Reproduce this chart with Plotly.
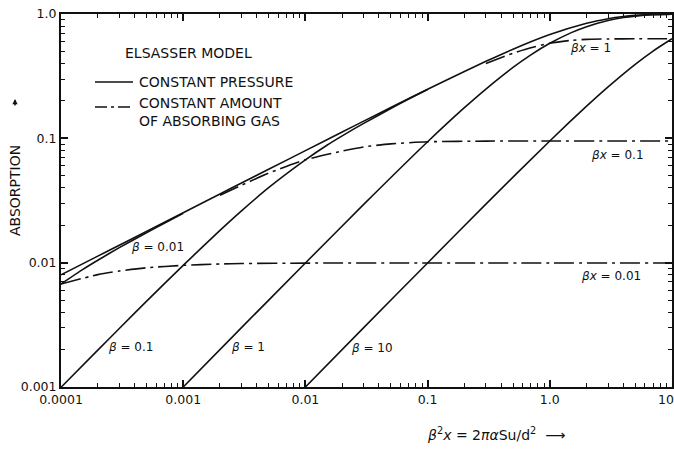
import plotly.graph_objects as go

# ---------------- data ----------------
# upper solid envelope
env_x = [0.0001, 0.0002, 0.0003, 0.0005, 0.001, 0.002, 0.003, 0.005, 0.01, 0.02, 0.03,
         0.05, 0.1, 0.2, 0.3, 0.5, 1, 2, 3, 4, 5, 7, 10]
env_y = [0.00798, 0.01128, 0.01382, 0.01784, 0.02523, 0.03568, 0.0437, 0.05637, 0.0797,
         0.1125, 0.1375, 0.1769, 0.2482, 0.3453, 0.4161, 0.5205, 0.6827, 0.8427, 0.9167,
         0.9545, 0.9747, 0.9918, 0.9984]

# constant pressure curves
b001_x = [0.0001, 0.00015, 0.0002, 0.0003, 0.0005, 0.0007, 0.001]
b001_y = [0.00674, 0.0088, 0.01047, 0.0132, 0.01738, 0.02072, 0.0249]

b01_x = [0.0001, 0.0002, 0.0003, 0.0005, 0.001, 0.002, 0.003, 0.005, 0.01, 0.015,
         0.02, 0.03, 0.05, 0.07, 0.1]
b01_y = [0.000995, 0.00198, 0.002955, 0.004878, 0.00952, 0.01818, 0.0261, 0.0401, 0.0671,
         0.088, 0.1047, 0.132, 0.1738, 0.2072, 0.247]

b1_x = [0.001, 0.003, 0.01, 0.03, 0.1, 0.2, 0.3, 0.5, 0.7, 1, 1.5, 2, 3, 4, 5, 7, 10]
b1_y = [0.001, 0.003, 0.00994, 0.0294, 0.0938, 0.1763, 0.249, 0.3714, 0.4688, 0.581,
        0.7084, 0.791, 0.887, 0.936, 0.962, 0.987, 0.997]

b10_x = [0.01, 0.03, 0.1, 0.3, 1, 2, 3, 5, 7, 10]
b10_y = [0.001, 0.003, 0.00995, 0.0296, 0.0952, 0.1813, 0.2592, 0.3935, 0.5034, 0.632]

# constant amount of absorbing gas curves
bx001_x = [0.0001, 0.0002, 0.0003, 0.0005, 0.001, 0.002, 0.003, 0.01, 0.1, 1, 10]
bx001_y = [0.00674, 0.00801, 0.00857, 0.00909, 0.00952, 0.00976, 0.00984, 0.00992,
           0.00995, 0.00995, 0.00995]

bx01_x = [0.002, 0.003, 0.005, 0.01, 0.02, 0.03, 0.05, 0.1, 0.3, 1, 3, 10]
bx01_y = [0.0348, 0.0419, 0.0524, 0.0672, 0.079, 0.0853, 0.0902, 0.0938, 0.095,
          0.0952, 0.0952, 0.0952]

bx1_x = [0.3, 0.5, 0.7, 1, 1.5, 2, 3, 5, 10]
bx1_y = [0.40, 0.4836, 0.5356, 0.581, 0.6137, 0.625, 0.630, 0.632, 0.632]

x_ticks = [0.0001, 0.001, 0.01, 0.1, 1, 10]
x_ticktext = ["0.0001", "0.001", "0.01", "0.1", "1.0", "10\u00a0\u00a0\u00a0"]
y_ticks = [0.001, 0.01, 0.1, 1]
y_ticktext = ["0.001", "0.01", "0.1", "1.0"]

# ---------------- figure ----------------
W, H = 674, 450
L, R, T, B = 61, 2, 14, 63
PW, PH = W - L - R, H - T - B


def px(x):
    return (x - L) / PW


def py(y):
    return (H - B - y) / PH


INK = "#111"
SOLID = dict(color=INK, width=1.6)
DASHDOT = dict(color=INK, width=1.6, dash="20px,5px,3px,5px")

fig = go.Figure()
for xs, ys in [(env_x, env_y), (b001_x, b001_y), (b01_x, b01_y), (b1_x, b1_y), (b10_x, b10_y)]:
    fig.add_trace(go.Scatter(x=xs, y=ys, mode="lines", line=dict(SOLID, shape="spline", smoothing=0.6),
                             showlegend=False, hoverinfo="skip"))
for xs, ys in [(bx001_x, bx001_y), (bx01_x, bx01_y), (bx1_x, bx1_y)]:
    fig.add_trace(go.Scatter(x=xs, y=ys, mode="lines", line=dict(DASHDOT, shape="spline", smoothing=0.6),
                             showlegend=False, hoverinfo="skip"))

minor_x = [m * 10 ** e for e in range(-4, 1) for m in range(2, 10)]
minor_y = [m * 10 ** e for e in range(-3, 0) for m in range(2, 10)]

axis_common = dict(
    showline=True, linecolor=INK, linewidth=2, mirror="allticks",
    ticks="inside", ticklen=7, tickwidth=1.5, tickcolor=INK,
    showgrid=False, zeroline=False, ticklabeloverflow="allow",
    tickfont=dict(family="DejaVu Sans", size=12.5, color=INK),
)
fig.update_xaxes(type="log", range=[-4, 1], tickvals=x_ticks, ticktext=x_ticktext,
                 minor=dict(tickvals=minor_x, ticks="inside", ticklen=4, tickwidth=1, tickcolor=INK,
                            showgrid=False),
                 **axis_common)
fig.update_yaxes(type="log", range=[-3, 0], tickvals=y_ticks, ticktext=y_ticktext,
                 minor=dict(tickvals=minor_y, ticks="inside", ticklen=4, tickwidth=1, tickcolor=INK,
                            showgrid=False),
                 **axis_common)

ann = []


def text(x, y, s, size=12, xanchor="center", angle=0, align="center"):
    ann.append(dict(xref="paper", yref="paper", x=px(x), y=py(y), text=s, showarrow=False,
                    xanchor=xanchor, yanchor="middle", textangle=angle, align=align,
                    font=dict(family="DejaVu Sans", size=size, color=INK)))


# legend box
text(123, 53, "ELSASSER MODEL", size=14, xanchor="left")
text(137, 82, "CONSTANT PRESSURE", size=14, xanchor="left")
text(137, 112, "CONSTANT AMOUNT<br>OF ABSORBING GAS", size=14, xanchor="left", align="left")

# curve labels
text(157, 247, "<i>β</i> = 0.01", size=12)
text(130, 347, "<i>β</i> = 0.1", size=12)
text(248, 347, "<i>β</i> = 1", size=12)
text(372, 348, "<i>β</i> = 10", size=12)
text(590, 48, "<i>βx</i> = 1", size=12)
text(617, 155, "<i>βx</i> = 0.1", size=12)
text(611, 276, "<i>βx</i> = 0.01", size=12)

# axis titles
text(15, 191, "ABSORPTION", size=14, angle=-90)
text(496, 434, "<i>β</i><sup>2</sup><i>x</i> = 2<i>πα</i>Su/d<sup>2</sup>  ⟶", size=14)

# small upward arrow above the y title
ann.append(dict(xref="paper", yref="paper", x=px(15), y=py(99), ax=0, ay=8, text="",
                showarrow=True, arrowhead=2, arrowsize=0.7, arrowwidth=1.5, arrowcolor=INK))

shapes = [
    dict(type="line", xref="paper", yref="paper", x0=px(95), x1=px(133), y0=py(82), y1=py(82),
         line=SOLID),
    dict(type="line", xref="paper", yref="paper", x0=px(95), x1=px(133), y0=py(107), y1=py(107),
         line=dict(color=INK, width=1.6, dash="12px,4px,3px,4px")),
]

fig.update_layout(
    width=W, height=H, margin=dict(l=L, r=R, t=T, b=B, autoexpand=False),
    paper_bgcolor="white", plot_bgcolor="white",
    annotations=ann, shapes=shapes, showlegend=False,
)

fig.write_html("out.html")
